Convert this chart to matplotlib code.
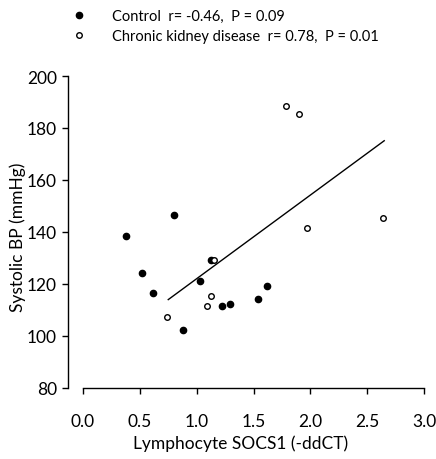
import matplotlib
matplotlib.use("Agg")
import matplotlib.pyplot as plt

plt.rcParams["font.family"] = ["Lato", "DejaVu Sans"]

# Control group
ctrl_x = [0.38, 0.52, 0.62, 0.80, 0.88, 1.03, 1.13, 1.22, 1.29, 1.54, 1.62]
ctrl_y = [138.5, 124.3, 116.4, 146.4, 102.4, 121.3, 129.4, 111.4, 112.4, 114.4, 119.4]

# Chronic kidney disease group
ckd_x = [0.74, 1.09, 1.13, 1.15, 1.79, 1.90, 1.97, 2.64]
ckd_y = [107.5, 111.4, 115.3, 129.4, 188.4, 185.4, 141.4, 145.4]

# regression line for CKD
fit_x = [0.75, 2.65]
fit_y = [114.0, 175.1]

x_ticks = [0.0, 0.5, 1.0, 1.5, 2.0, 2.5, 3.0]
y_ticks = [80, 100, 120, 140, 160, 180, 200]

fig = plt.figure(figsize=(4.36, 4.60), dpi=100)
ax = fig.add_axes([68 / 436, 71 / 460, (424 - 68) / 436, (389 - 77) / 460])

ax.plot(ctrl_x, ctrl_y, "o", color="black", markersize=4.5,
        label="Control  r= -0.46,  P = 0.09")
ax.plot(ckd_x, ckd_y, "o", markerfacecolor="white", markeredgecolor="black",
        markeredgewidth=1.0, markersize=4, label="Chronic kidney disease  r= 0.78,  P = 0.01")
ax.plot(fit_x, fit_y, color="black", linewidth=1.0)

ax.set_xlim(-0.132, 3.0)
ax.set_ylim(80, 200)
ax.set_xticks(x_ticks)
ax.set_xticklabels([f"{v:.1f}" for v in x_ticks])
ax.set_yticks(y_ticks)
ax.spines["top"].set_visible(False)
ax.spines["right"].set_visible(False)
ax.spines["bottom"].set_bounds(0, 3)
ax.tick_params(direction="out", length=4, width=1, labelsize=12.5, pad=4)
ax.tick_params(axis="x", pad=14)
for s in ("left", "bottom"):
    ax.spines[s].set_linewidth(1)

ax.set_xlabel("Lymphocyte SOCS1 (-ddCT)", fontsize=12.5)
ax.set_ylabel("Systolic BP (mmHg)", fontsize=12.5)
ax.xaxis.set_label_coords(0.486, -0.15)
ax.yaxis.set_label_coords(-0.118, 0.487)

fig.legend(loc="upper left", bbox_to_anchor=(58 / 436, 1.0), frameon=False,
           fontsize=10.5, handletextpad=1.5, labelspacing=0.4, borderaxespad=0.3,
           handlelength=1.5)

fig.savefig("out.png", dpi=100)
